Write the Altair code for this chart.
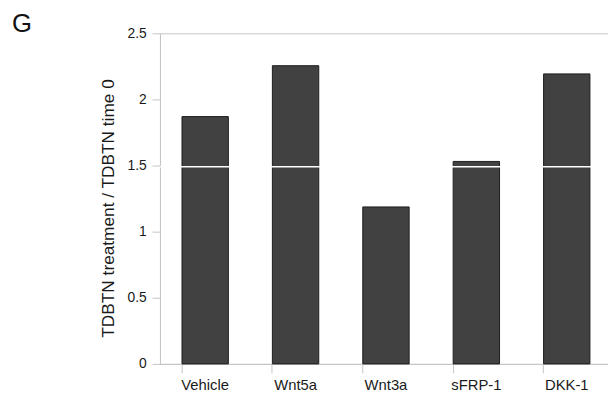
import altair as alt
import pandas as pd

categories = ["Vehicle", "Wnt5a", "Wnt3a", "sFRP-1", "DKK-1"]
values = [1.87, 2.255, 1.187, 1.531, 2.193]
white_line_value = 1.49
y_ticks = [0, 0.5, 1, 1.5, 2, 2.5]
panel_label = "G"
y_title = "TDBTN treatment / TDBTN time 0"

df = pd.DataFrame({"category": categories, "value": values})

FONT = "Liberation Sans"
AXIS_GRAY = "#c4c4c4"

x_enc = alt.X(
    "category:N",
    sort=categories,
    scale=alt.Scale(paddingInner=0.487, paddingOuter=0.2435, range=[0, 458]),
    axis=alt.Axis(
        title=None,
        labelAngle=0,
        labelFont=FONT,
        labelFontSize=15,
        labelColor="#1a1a1a",
        labelPadding=5,
        tickSize=9,
        tickColor=AXIS_GRAY,
        domainColor=AXIS_GRAY,
        bandPosition=0,
        grid=False,
    ),
)

y_scale = alt.Scale(domain=[0, 2.5], nice=False)

bars = alt.Chart(df).mark_bar(
    color="#414141", stroke="#1c1c1c", strokeWidth=1
).encode(
    x=x_enc,
    y=alt.Y(
        "value:Q",
        scale=y_scale,
        axis=alt.Axis(
            title=y_title,
            titleFont=FONT,
            titleFontSize=17.5,
            titleFontWeight="normal",
            titleColor="#1a1a1a",
            titlePadding=10,
            titleY=177,
            values=y_ticks,
            format="~g",
            labelFont=FONT,
            labelFontSize=14,
            labelColor="#1a1a1a",
            labelPadding=6,
            tickSize=8,
            tickColor=AXIS_GRAY,
            domainColor=AXIS_GRAY,
            grid=False,
        ),
    ),
)

white_rule = alt.Chart(pd.DataFrame({"y": [white_line_value]})).mark_rule(
    color="white", strokeWidth=1.5
).encode(y=alt.Y("y:Q", scale=y_scale))

chart = (
    alt.layer(bars, white_rule)
    .properties(
        width=454,
        height=335,
        autosize=alt.AutoSizeParams(type="none"),
        padding={"left": 154, "top": 23, "right": 0, "bottom": 37},
        title=alt.TitleParams(
            panel_label,
            anchor="start",
            frame="group",
            font=FONT,
            fontSize=26,
            fontWeight="normal",
            color="#111111",
            dx=-150,
            dy=11,
            offset=0,
        ),
    )
    .configure_view(stroke=AXIS_GRAY, strokeWidth=1)
)

chart.save("out.html", embed_options={"renderer": "svg", "actions": False})
